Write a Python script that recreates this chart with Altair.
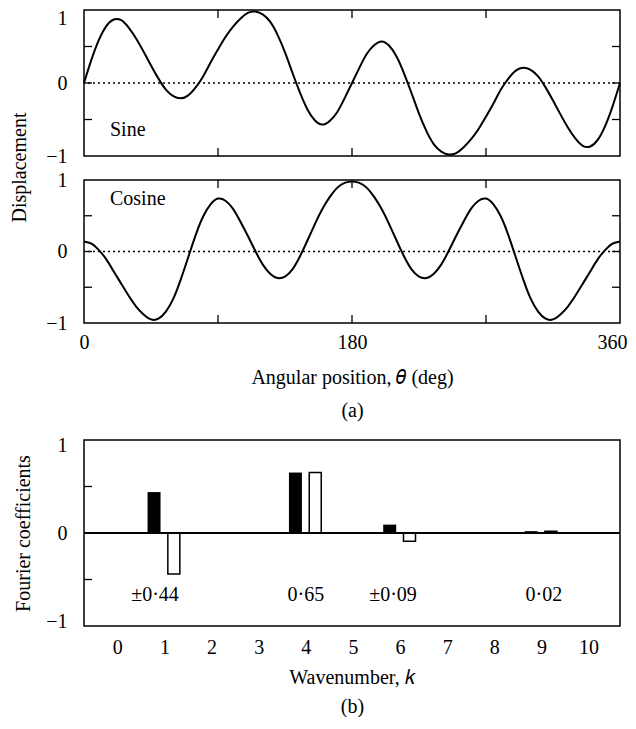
import altair as alt
import pandas as pd

# ---------------- data ----------------
theta = list(range(0, 361, 5))
sine_vals = [0.00, 0.32, 0.59, 0.78, 0.87, 0.86, 0.76, 0.61, 0.43, 0.24,
             0.06, -0.09, -0.18, -0.21, -0.17, -0.06, 0.09, 0.28, 0.46, 0.63,
             0.77, 0.88, 0.96, 0.98, 0.94, 0.84, 0.66, 0.42, 0.14, -0.13,
             -0.36, -0.51, -0.57, -0.52, -0.40, -0.21, 0.00, 0.21, 0.40, 0.52,
             0.57, 0.51, 0.36, 0.13, -0.14, -0.42, -0.66, -0.84, -0.94, -0.98,
             -0.96, -0.88, -0.77, -0.63, -0.46, -0.28, -0.09, 0.06, 0.17, 0.21,
             0.18, 0.09, -0.06, -0.24, -0.43, -0.61, -0.76, -0.86, -0.87, -0.78,
             -0.59, -0.32, 0.00]
cosine_vals = [0.14, 0.11, 0.02, -0.11, -0.28, -0.45, -0.62, -0.77, -0.88, -0.95,
               -0.94, -0.84, -0.66, -0.39, -0.08, 0.23, 0.49, 0.66, 0.74, 0.71,
               0.60, 0.42, 0.22, 0.01, -0.18, -0.31, -0.37, -0.35, -0.25, -0.07,
               0.15, 0.38, 0.59, 0.76, 0.89, 0.96, 0.98, 0.96, 0.89, 0.76,
               0.59, 0.38, 0.15, -0.07, -0.25, -0.35, -0.37, -0.31, -0.18, 0.01,
               0.22, 0.42, 0.60, 0.71, 0.74, 0.66, 0.49, 0.23, -0.08, -0.39,
               -0.66, -0.84, -0.94, -0.95, -0.88, -0.77, -0.62, -0.45, -0.28, -0.11,
               0.02, 0.11, 0.14]

wavenumbers = [1, 4, 6, 9]
sine_coef = [0.44, 0.65, 0.09, 0.02]
cosine_coef = [-0.44, 0.65, -0.09, 0.02]
coef_text = ["±0·44", "0·65", "±0·09", "0·02"]
coef_text_k = [0.8, 4.0, 5.85, 9.05]

deg_labels = [0, 180, 360]
deg_inner_ticks = [90, 180, 270]
disp_labels = [-1, 0, 1]
disp_inner_ticks = [-0.5, 0, 0.5]
k_labels = list(range(0, 11))

# ---------------- layout constants ----------------
W = 536
H_SINE = 146
H_COS = 143
H_BAR = 186
FONT = "Liberation Serif"
FS = 20
TICK = 8

xs = alt.Scale(domain=[0, 360], nice=False, zero=False)
ys = alt.Scale(domain=[-1, 1], nice=False, zero=False)

df_sine = pd.DataFrame({"theta": theta, "v": sine_vals})
df_cos = pd.DataFrame({"theta": theta, "v": cosine_vals})
df_xt = pd.DataFrame({"t": deg_inner_ticks})
df_yt = pd.DataFrame({"t": disp_inner_ticks})
df_zero = pd.DataFrame({"z": [0]})

TITLE_STYLE = dict(titleFont=FONT, titleFontSize=FS, titleFontWeight="normal",
                   titleColor="black")
Y_LABEL_EXPR = "datum.value == 0 ? '0' : (datum.value > 0 ? '1' : '\u22121')"


def offsets(pairs):
    return {"condition": [{"test": f"datum.value == {v}", "value": o}
                          for v, o in pairs], "value": 0}


def y_axis(title=None, **kw):
    args = dict(values=disp_labels, labelExpr=Y_LABEL_EXPR, ticks=False,
                domain=False, grid=False, labelPadding=17, labelFont=FONT,
                labelFontSize=FS, labelColor="black", labelOverlap=False,
                title=title)
    args.update(kw)
    return alt.Axis(**args)


def curve_panel(df, h, name, name_y, xaxis, yaxis):
    line = alt.Chart(df).mark_line(color="black", strokeWidth=2,
                                   interpolate="natural").encode(
        x=alt.X("theta:Q", scale=xs, axis=xaxis),
        y=alt.Y("v:Q", scale=ys, axis=yaxis),
    )
    zero = alt.Chart(df_zero).mark_rule(color="black", strokeWidth=1.5,
                                        strokeDash=[2, 3]).encode(
        y=alt.Y("z:Q", scale=ys))
    top_t = alt.Chart(df_xt).mark_rule(color="black", strokeWidth=1.3).encode(
        x=alt.X("t:Q", scale=xs), y=alt.value(0), y2=alt.value(TICK))
    bot_t = alt.Chart(df_xt).mark_rule(color="black", strokeWidth=1.3).encode(
        x=alt.X("t:Q", scale=xs), y=alt.value(h - TICK), y2=alt.value(h))
    left_t = alt.Chart(df_yt).mark_rule(color="black", strokeWidth=1.3).encode(
        y=alt.Y("t:Q", scale=ys), x=alt.value(0), x2=alt.value(TICK))
    right_t = alt.Chart(df_yt).mark_rule(color="black", strokeWidth=1.3).encode(
        y=alt.Y("t:Q", scale=ys), x=alt.value(W - TICK), x2=alt.value(W))
    lab = alt.Chart(pd.DataFrame({"n": [name]})).mark_text(
        font=FONT, fontSize=FS, align="left", baseline="middle",
        color="black").encode(text="n:N", x=alt.value(26), y=alt.value(name_y))
    return alt.layer(zero, line, top_t, bot_t, left_t, right_t, lab).properties(
        width=W, height=h)


sine_axis_y = y_axis(
    title="Displacement", titleX=-65, titleY=157, titleAlign="center",
    titleBaseline="middle", titleAngle=270,
    labelOffset=offsets([(1, 8)]),
    **TITLE_STYLE,
)
sine = curve_panel(df_sine, H_SINE, "Sine", 120,
                   alt.Axis(labels=False, ticks=False, domain=False, grid=False,
                            title=None),
                   sine_axis_y)

cos_axis_x = alt.Axis(values=deg_labels, ticks=False, domain=False, grid=False,
                      labelPadding=9, labelFlush=False, labelFont=FONT,
                      labelFontSize=FS, labelColor="black", labelOverlap=False,
                      labelOffset=offsets([(360, -8)]),
                      title=["Angular position, \U0001D703 (deg)", "(a)"],
                      titlePadding=15, titleLineHeight=33, **TITLE_STYLE)
cosine = curve_panel(df_cos, H_COS, "Cosine", 19, cos_axis_x, y_axis())

# ---------------- bar panel ----------------
bx = alt.Scale(domain=[-0.6, 10.56], nice=False, zero=False)
df_bar = pd.DataFrame({"k": wavenumbers, "s": sine_coef, "c": cosine_coef})
df_txt = pd.DataFrame({"k": coef_text_k, "t": coef_text})
df_bt = pd.DataFrame({"t": [-0.5, 0.5]})

bar_x_axis = alt.Axis(values=k_labels, ticks=False, domain=False, grid=False,
                      labelPadding=11, labelFlush=False, labelFont=FONT,
                      labelFontSize=FS, labelColor="black", labelOverlap=False,
                      title=["Wavenumber, \U0001D458", "(b)"],
                      titlePadding=10, titleLineHeight=29, **TITLE_STYLE)
bar_y_axis = y_axis(title="Fourier coefficients", titleX=-61, titleY=H_BAR / 2,
                    titleAlign="center", titleBaseline="middle", titleAngle=270,
                    labelOffset=offsets([(1, 5), (-1, -5)]),
                    **TITLE_STYLE)

bars_black = alt.Chart(df_bar).transform_calculate(
    kx="datum.k - 0.22").mark_bar(color="black", width=13).encode(
    x=alt.X("kx:Q", scale=bx, axis=bar_x_axis),
    y=alt.Y("s:Q", scale=ys, axis=bar_y_axis))
bars_white = alt.Chart(df_bar).transform_calculate(
    kx="datum.k + 0.2").mark_bar(fill="white", stroke="black",
                                  strokeWidth=1.5, width=12).encode(
    x=alt.X("kx:Q", scale=bx), y=alt.Y("c:Q", scale=ys))
zero_bar = alt.Chart(df_zero).mark_rule(color="black", strokeWidth=2).encode(
    y=alt.Y("z:Q", scale=ys))
bar_lt = alt.Chart(df_bt).mark_rule(color="black", strokeWidth=1.3).encode(
    y=alt.Y("t:Q", scale=ys), x=alt.value(0), x2=alt.value(TICK))
txt = alt.Chart(df_txt).mark_text(font=FONT, fontSize=FS, color="black",
                                  baseline="middle").encode(
    x=alt.X("k:Q", scale=bx), y=alt.datum(-0.67), text="t:N")

bar_panel = alt.layer(bars_black, bars_white, zero_bar, bar_lt, txt).properties(
    width=W, height=H_BAR)

top = alt.vconcat(sine, cosine, spacing=24, bounds="flush")
chart = alt.vconcat(top, bar_panel, spacing=13).properties(
    padding={"left": 0, "top": -2, "right": 0, "bottom": 0}
).configure(font=FONT, background="white").configure_view(
    stroke="black", strokeWidth=1.5)

chart.save("out.html", embed_options={"renderer": "svg", "actions": False})
